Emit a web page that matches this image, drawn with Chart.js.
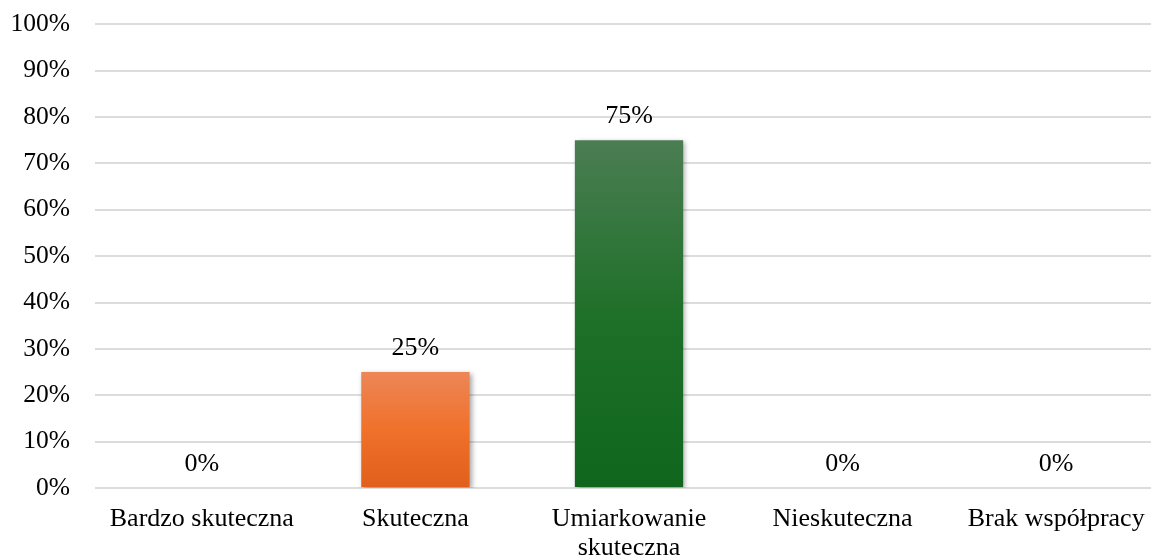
<!DOCTYPE html>
<html>
<head>
<meta charset="utf-8">
<script src="https://cdn.jsdelivr.net/npm/chart.js@4"></script>
<style>
    body { margin: 0; overflow: hidden; background: #fff; }
    #wrap { width: 1163px; height: 560px; }
</style>
</head>
<body>
<div id="wrap"><canvas id="ratingChart" width="1163" height="560"></canvas></div>
<script>
const categories = ['Bardzo skuteczna', 'Skuteczna', ['Umiarkowanie', 'skuteczna'], 'Nieskuteczna', 'Brak współpracy'];
const shares = [0, 25, 75, 0, 0];
const yMax = 100;
const yStep = 10;

// gradient stops per bar (top, middle, bottom)
const topColors = ['#ED8657', '#ED8657', '#4B7D53', '#4B7D53', '#4B7D53'];
const midColors = ['#F0712A', '#F0712A', '#1F7029', '#1F7029', '#1F7029'];
const bottomColors = ['#E05F1C', '#E05F1C', '#0F661C', '#0F661C', '#0F661C'];

const serif = '"Liberation Serif", "Times New Roman", serif';

function barGradient(context) {
    const chart = context.chart;
    const i = context.dataIndex;
    if (!chart.chartArea) return midColors[i];
    const y = chart.scales.y;
    const top = y.getPixelForValue(shares[i]);
    const base = y.getPixelForValue(0);
    if (base - top < 1) return midColors[i];
    const g = chart.ctx.createLinearGradient(0, top, 0, base);
    g.addColorStop(0, topColors[i]);
    g.addColorStop(0.5, midColors[i]);
    g.addColorStop(1, bottomColors[i]);
    return g;
}

const barShadow = {
    id: 'barShadow',
    beforeDatasetsDraw(chart) {
        const ctx = chart.ctx;
        ctx.save();
        ctx.shadowColor = 'rgba(0,0,0,0.35)';
        ctx.shadowBlur = 5;
        ctx.shadowOffsetX = 2;
        ctx.shadowOffsetY = 2;
    },
    afterDatasetsDraw(chart) {
        chart.ctx.restore();
    }
};

const valueLabels = {
    id: 'valueLabels',
    afterDatasetsDraw(chart) {
        const ctx = chart.ctx;
        const meta = chart.getDatasetMeta(0);
        ctx.save();
        ctx.font = '26px ' + serif;
        ctx.fillStyle = '#000';
        ctx.textAlign = 'center';
        ctx.textBaseline = 'middle';
        meta.data.forEach((bar, i) => {
            ctx.fillText(shares[i] + '%', bar.x, bar.y - 24);
        });
        ctx.restore();
    }
};

new Chart(document.getElementById('ratingChart'), {
    type: 'bar',
    data: {
        labels: categories,
        datasets: [{
            data: shares,
            backgroundColor: barGradient,
            borderWidth: 0,
            barPercentage: 0.507,
            categoryPercentage: 1
        }]
    },
    options: {
        responsive: false,
        animation: false,
        layout: { padding: 0 },
        plugins: {
            legend: { display: false },
            tooltip: { enabled: false }
        },
        scales: {
            x: {
                grid: { display: false },
                border: { display: false },
                ticks: {
                    color: '#000',
                    font: { family: serif, size: 26, lineHeight: 1.1 },
                    padding: 9,
                    maxRotation: 0,
                    autoSkip: false
                },
                afterFit(scale) { scale.height = 72; }
            },
            y: {
                min: 0,
                max: yMax,
                grid: { color: '#DCDCDC', lineWidth: 2, drawTicks: true, tickLength: 16, tickColor: 'rgba(0,0,0,0)' },
                border: { display: false },
                ticks: {
                    stepSize: yStep,
                    color: '#000',
                    padding: 9,
                    font: { family: serif, size: 25.5 },
                    callback: v => v + '%'
                },
                afterFit(scale) { scale.width = 95; }
            }
        }
    },
    plugins: [barShadow, valueLabels]
});
</script>
</body>
</html>
